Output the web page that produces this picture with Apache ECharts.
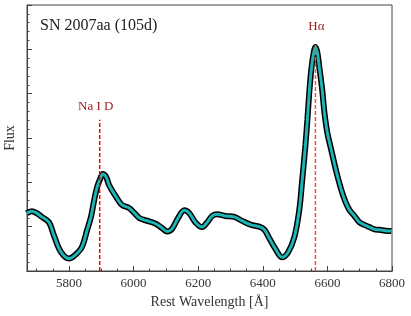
<!DOCTYPE html>
<html>
<head>
<meta charset="utf-8">
<script src="https://cdn.jsdelivr.net/npm/echarts@6/dist/echarts.min.js"></script>
<style>html,body{margin:0;padding:0;background:#fff;}#c{width:411px;height:316px;}</style>
</head>
<body>
<div id="c"></div>
<script>
const wavelength = [5669,5685,5701,5716,5738,5753,5775,5800,5819,5840,5856,5868,5878,5887,5896,5905,5915,5924,5946,5964,5986,6002,6017,6030,6048,6070,6088,6104,6119,6138,6157,6172,6191,6212,6228,6243,6259,6284,6312,6336,6364,6389,6405,6420,6439,6460,6479,6498,6513,6522,6532,6538,6544,6550,6557,6563,6569,6575,6584,6591,6600,6612,6628,6643,6656,6668,6684,6699,6715,6730,6746,6761,6780,6798];
const flux = [1.30,1.35,1.30,1.22,1.10,0.81,0.43,0.28,0.36,0.54,0.92,1.22,1.60,1.89,2.07,2.19,2.12,1.94,1.67,1.49,1.42,1.31,1.20,1.16,1.12,1.06,0.97,0.89,0.95,1.20,1.37,1.31,1.10,0.99,1.10,1.24,1.28,1.24,1.22,1.13,1.04,1.00,0.93,0.74,0.50,0.31,0.43,0.77,1.38,2.05,2.84,3.41,4.04,4.53,4.90,5.05,4.92,4.60,4.08,3.56,3.11,2.73,2.23,1.83,1.56,1.38,1.24,1.10,1.04,0.99,0.94,0.93,0.91,0.90];
const xLabelValues = [5800,6000,6200,6400,6600,6800];
const xMinorValues = [5700,5750,5850,5900,5950,6050,6100,6150,6250,6300,6350,6450,6500,6550,6650,6700,6750];
const lineWl = [5895, 6563];
const lineTop = [3.41, 5.10];
const lineNames = ['Na I D', 'H\u03b1'];
const lineColors = ['#ff0000', '#f55050'];
const labelGap = [7, 12];
const labelShift = [-4, 1];
const title = 'SN 2007aa (105d)';

const serif = '"Liberation Serif", "DejaVu Serif", serif';
const pts = wavelength.map((w, i) => [w, flux[i]]);
const idLines = lineWl.map((w, i) => ({
  type: 'line', z: 4, silent: true,
  symbol: 'none', symbolSize: 0,
  color: lineColors[i],
  lineStyle: {color: lineColors[i], type: [4, 2], width: 1.5, opacity: 1},
  label: {show: false},
  data: [[w, 0], [w, lineTop[i]]],
  markPoint: {
    silent: true, symbol: 'circle', symbolSize: 0,
    label: {show: true, position: 'top', distance: labelGap[i], offset: [labelShift[i], 0], formatter: lineNames[i], color: '#9b1c1c', fontFamily: serif, fontSize: 13},
    data: [{coord: [w, lineTop[i]]}]
  }
}));

const chart = echarts.init(document.getElementById('c'));
const baseX = {
  type: 'value', min: 5670, max: 6800,
  axisLine: {show: true, lineStyle: {color: '#444', width: 1}},
  splitLine: {show: false}
};
chart.setOption({
  animation: false,
  grid: {left: 27, right: 19, top: 5, bottom: 45, show: true, borderColor: '#444', borderWidth: 1, outerBoundsMode: 'none', containLabel: false},
  title: {text: title, left: 35, top: 13, textStyle: {fontFamily: serif, fontSize: 16, fontWeight: 'normal', color: '#222'}},
  xAxis: [
    Object.assign({}, baseX, {
      name: 'Rest Wavelength [\u00c5]', nameLocation: 'middle', nameGap: 22,
      nameTextStyle: {fontFamily: serif, fontSize: 14, color: '#333'},
      axisTick: {show: true, inside: true, length: 5, customValues: xLabelValues, lineStyle: {color: '#444'}},
      axisLabel: {show: true, customValues: xLabelValues, formatter: v => String(v), fontFamily: serif, fontSize: 13, color: '#333', margin: 6}
    }),
    Object.assign({}, baseX, {
      position: 'bottom',
      axisTick: {show: true, inside: true, length: 2.5, customValues: xMinorValues, lineStyle: {color: '#444'}},
      axisLabel: {show: false}
    })
  ],
  yAxis: {
    type: 'value', min: 0, max: 6, interval: 1,
    name: 'Flux', nameLocation: 'middle', nameGap: 10,
    nameTextStyle: {fontFamily: serif, fontSize: 14, color: '#333'},
    axisLine: {show: true, lineStyle: {color: '#444'}},
    axisTick: {show: true, inside: true, length: 5, lineStyle: {color: '#444'}},
    minorTick: {show: true, splitNumber: 5, length: 2.5, lineStyle: {color: '#444'}},
    axisLabel: {show: false},
    splitLine: {show: false}
  },
  series: [
    {type: 'line', data: pts, smooth: 0.35, symbol: 'none', lineStyle: {color: '#000', width: 6}, z: 2, silent: true},
    {type: 'line', data: pts, smooth: 0.35, symbol: 'none', lineStyle: {color: '#1cb4b4', width: 3}, z: 3, silent: true}
  ].concat(idLines)
});
</script>
</body>
</html>
